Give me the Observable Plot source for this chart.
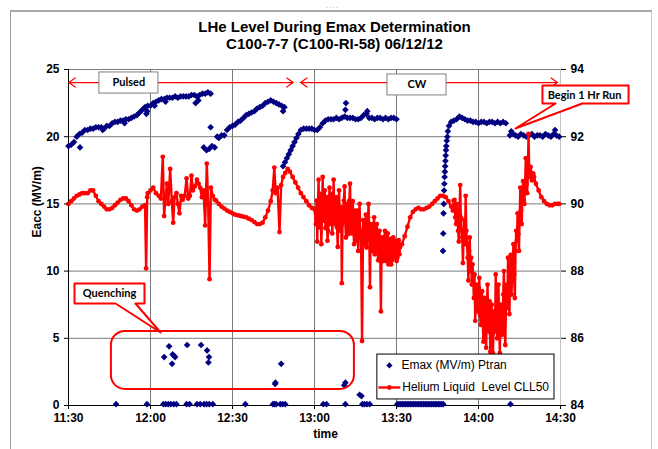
<!DOCTYPE html>
<html><head><meta charset="utf-8">
<script src="https://cdn.jsdelivr.net/npm/d3@7"></script>
<script src="https://cdn.jsdelivr.net/npm/@observablehq/plot@0.6"></script>
<style>
html,body{margin:0;padding:0;background:#fff;}
#wrap{position:relative;width:658px;height:449px;overflow:hidden;background:#fff;}
#wrap svg{display:block;position:absolute;left:0;top:0;}
.frame{position:absolute;left:10px;top:10px;width:640px;height:460px;border-left:1px solid #9a9a9a;border-top:2px solid #a8a8a8;border-right:1px solid #c8c8c8;}
.handle{position:absolute;left:326px;top:1px;font:8px 'Liberation Sans',sans-serif;color:#aaa;letter-spacing:1px;}
</style></head>
<body><div id="wrap"><div class="frame"></div><div class="handle">....</div></div>
<script>
// ---------- data ----------
const xTickLabels = ["11:30","12:00","12:30","13:00","13:30","14:00","14:30"];
const yTicks = [0,5,10,15,20,25];
const rightTicks = [84,86,88,90,92,94];

// Emax (MV/m) Ptran : [minutes after 11:30, MV/m]
const emaxPulsed1 = [[0,19.3],[1,19.4],[2,19.6],[3,20.0],[4,20.2],[4.2,19.2],[5,20.3],[6,20.5],[7,20.5],[8,20.6],[9,20.6],[10,20.7],[11,20.7],[12,20.7],[12.5,20.5],[13,20.6],[14,20.8],[15,20.8],[16,21.0],[17,21.1],[18,21.1],[19,21.2],[20,21.2],[20.5,21.0],[21,21.3],[22,21.3],[23,21.4],[24,21.5],[25,21.6],[26,21.8],[27,22.0],[28,22.2],[28.5,21.7],[28.8,21.9],[29,22.3],[30,22.3],[31,22.5],[31.5,22.3],[32,22.6],[33,22.7],[34,22.8],[35,22.8],[35.5,22.6],[36,22.9],[37,22.9],[38,22.9],[39,23.0],[40,22.9],[41,23.0],[42,23.0],[43,23.0],[44,23.0],[45,23.1],[46,23.1],[46.5,22.5],[47,23.0],[47.5,22.7],[48,23.1],[49,23.2],[50,23.2],[51,23.3],[52,23.2]];
const emaxPulsed2 = [[49.5,19.2],[50.5,19.0],[51.5,19.1],[52,20.7],[52.5,19.3],[53.5,19.2],[54.4,20.0],[55,19.9],[56,20.1],[57,20.1],[58,20.5],[59,20.7],[60,20.8],[61,20.9],[62,21.1],[63,21.2],[64,21.4],[65,21.6],[66,21.7],[67,21.8],[68,21.9],[69,22.1],[70,22.2],[71,22.3],[72,22.5],[73,22.6],[74,22.7],[75,22.6],[76,22.5],[77,22.4],[78,22.3],[78.5,21.9],[79,22.2]];
const emaxCW1 = [[78.5,17.8],[79.2,18.1],[79.9,18.4],[80.6,18.7],[81.3,19.0],[82,19.3],[82.7,19.6],[83.4,19.9],[84.1,20.2],[85,20.5],[86,20.6],[87,20.6],[88,20.6],[89,20.6],[90,20.5],[91,20.5],[92,20.7],[93,21.0],[94,21.2],[95,21.3],[96,21.3],[97,21.3],[98,21.4],[99,21.3],[100,21.4],[101,21.5],[101.3,22.0],[101.5,22.5],[102,21.4],[103,21.4],[104,21.4],[105,21.3],[106,21.3],[107,21.4],[108,21.6],[109,21.7],[109.3,21.9],[110,21.4],[111,21.4],[112,21.3],[113,21.4],[114,21.4],[115,21.3],[116,21.4],[117,21.3],[118,21.4],[119,21.4],[120,21.3]];
const emaxCW2 = [[137.0,11.5],[137.1,12.8],[137.2,14.3],[137.3,15.0],[137.4,16.0],[137.5,16.5],[137.6,17.0],[137.7,17.4],[137.8,17.8],[137.9,18.2],[138.0,18.6],[138.1,19.0],[138.2,19.3],[138.4,19.7],[138.6,20.0],[138.8,20.4],[139.2,20.8],[140,21.1],[141,21.2],[142,21.3],[143,21.5],[144,21.4],[145,21.3],[146,21.2],[147,21.2],[148,21.1],[149,21.1],[150,21.0],[151,21.1],[152,21.1],[153,21.0],[154,21.1],[155,21.1],[156,21.0],[157,21.1],[158,21.0],[159,21.1],[160,21.0]];
const emaxRun = [[161.5,20.1],[162,20.4],[162.6,20.2],[163.5,20.1],[164.5,20.0],[165.5,20.2],[166.5,20.1],[167.5,20.0],[168.5,20.1],[169.5,20.2],[170.5,20.0],[171.5,20.1],[172.5,20.1],[173.5,20.0],[174.5,20.2],[175.5,20.1],[176.5,20.0],[177.5,20.2],[178,20.5],[178.5,20.1],[179.5,20.0]];
const emaxQuench = [[35,3.6],[36.8,4.4],[37.9,3.1],[38.1,3.8],[38.6,3.7],[39,3.6],[43.4,4.5],[48.5,4.5],[50.7,4.1],[51.2,3.2],[51.4,3.6],[75.6,1.6],[75.7,1.7],[77.8,3.1],[100.9,1.5],[101.3,1.7],[106.5,0.8],[107.2,0.7]];
const emaxZero = [[17.4,0.1],[28.7,0.1],[34.7,0.1],[35.6,0.1],[36.5,0.1],[37.4,0.1],[38.5,0.1],[39.5,0.1],[43.2,0.1],[44.3,0.1],[47,0.1],[48.2,0.1],[49.6,0.1],[50.5,0.1],[51.5,0.1],[52.8,0.1],[64.7,0.1],[74.8,0.1],[75.4,0.1],[76,0.1],[77.5,0.1],[78.4,0.1],[79.3,0.1],[93.2,0.1],[94.4,0.1],[101.3,0.1],[107.5,0.1],[108.3,0.1],[109.2,0.1],[110.2,0.1],[120.3,0.1],[120.9,0.1],[121.5,0.1],[122.1,0.1],[122.7,0.1],[123.3,0.1],[123.9,0.1],[124.5,0.1],[125.1,0.1],[125.7,0.1],[126.3,0.1],[126.9,0.1],[127.5,0.1],[128.1,0.1],[128.7,0.1],[129.3,0.1],[129.9,0.1],[130.5,0.1],[131.1,0.1],[131.7,0.1],[132.3,0.1],[132.9,0.1],[133.5,0.1],[134.1,0.1],[134.7,0.1],[135.3,0.1],[135.9,0.1],[136.5,0.1],[137.1,0.1],[161.7,0.1]];

// Helium Liquid Level CLL50 : [minutes after 11:30, %]
const heliumA = [[0,90.00],[1,90.08],[2,90.16],[3,90.24],[4,90.28],[5,90.32],[6,90.32],[7,90.32],[8,90.40],[9,90.40],[10,90.24],[11,90.08],[12,90.00],[13,89.92],[14,89.84],[15,89.84],[16,89.88],[17,89.96],[18,90.04],[19,90.12],[20,90.16],[21,90.16],[22,90.08],[23,89.96],[24,89.84],[25,89.80],[26,89.84],[27,89.92],[28,89.96],[28.4,88.08],[28.8,90.20],[29,90.32],[30,90.40],[31,90.48],[32,90.32],[33,90.24]];
const heliumB = [[33.8,90.16],[34.5,91.40],[35.0,89.64],[35.5,90.16],[36.0,90.60],[36.5,90.00],[37.2,91.04],[37.8,90.08],[38.3,89.44],[38.8,90.20],[39.5,90.32],[40.0,90.00],[40.6,89.72],[41.2,90.24],[41.8,90.12],[42.5,90.24],[43.2,90.76],[43.8,90.16],[44.4,90.24],[45.0,90.84],[45.5,90.40],[46.2,90.52],[47.0,90.72],[47.6,90.60],[48.2,90.48],[48.8,90.20],[49.4,90.40],[50.0,89.36],[50.6,91.20],[51.1,90.00],[51.6,87.76],[52.1,90.48],[52.8,90.24]];
const heliumC = [[53.5,90.12],[54,90.10],[55,90.00],[56,89.92],[57,89.86],[58,89.80],[59,89.76],[60,89.72],[61,89.68],[62,89.66],[63,89.64],[64,89.62],[65,89.60],[66,89.56],[67,89.52],[68,89.46],[69,89.40],[70,89.40],[71,89.44],[72,89.60],[73,89.80],[74,90.08],[74.7,90.40],[75.3,91.08],[75.8,90.32],[76.5,90.48],[77.2,89.16],[77.8,90.56],[78.5,90.80],[79.3,90.92],[80.2,91.04],[81,90.96],[82,90.80],[83,90.64],[84,90.48],[85,90.32],[86,90.20],[87,90.08],[88,89.96],[89,89.88],[90,89.84]];
const heliumD = [[90.5,89.40],[90.75,90.10],[91,88.88],[91.25,89.90],[91.5,90.72],[91.75,89.30],[92,89.60],[92.25,90.30],[92.5,88.80],[92.75,89.70],[93,90.80],[93.25,89.50],[93.5,89.80],[93.75,90.40],[94,89.28],[94.25,89.90],[94.5,90.20],[94.75,88.90],[95,89.20],[95.25,90.00],[95.5,90.48],[95.75,89.40],[96,89.92],[96.25,90.30],[96.5,89.12],[96.75,89.80],[97,90.72],[97.25,89.60],[97.5,89.40],[97.75,90.10],[98,90.20],[98.25,89.30],[98.5,88.72],[98.75,89.70],[99,90.40],[99.25,89.50],[99.5,89.20],[99.75,89.90],[100,87.64],[100.25,89.40],[100.5,89.68],[100.75,90.10],[101,90.52],[101.25,89.50],[101.5,89.00],[101.75,89.80],[102,90.00],[102.25,89.10],[102.5,89.20],[102.75,90.10],[103,90.60],[103.25,89.60],[103.5,89.12],[103.75,89.70],[104,90.08],[104.25,89.20],[104.5,88.80],[104.75,89.50],[105,89.80],[105.25,88.90],[105.5,89.32],[105.75,89.80],[106,88.60],[106.25,89.30],[106.5,90.00],[106.75,89.00],[107,89.20],[107.4,85.92],[107.8,89.52],[108.05,88.90],[108.3,88.80],[108.55,89.40],[108.8,89.68],[109.05,88.70],[109.3,89.04],[109.55,89.60],[109.8,90.00],[110.05,89.00],[110.3,87.52],[110.55,89.10],[110.8,89.40],[111.05,88.60],[111.3,88.72],[111.55,89.30],[111.8,89.60],[112.05,88.50],[112.3,88.80],[112.55,89.20],[112.8,89.40],[113.05,88.60],[113.3,88.32],[113.55,89.00],[113.8,89.20],[114.05,88.50],[114.3,86.80],[114.55,88.70],[114.8,89.00],[115.05,88.30],[115.3,88.60],[115.55,89.00],[115.8,89.20],[116.05,88.30],[116.3,88.40],[116.55,88.90],[116.8,89.12],[117.05,88.20],[117.3,88.48],[117.55,88.80],[117.8,88.96],[118.05,88.20],[118.3,88.32],[118.55,88.70],[118.8,89.00],[119.05,88.40],[119.3,88.60],[119.55,88.90],[119.8,88.88],[120.05,88.30],[120.3,88.40],[120.55,88.80],[120.8,88.92],[121.05,88.50],[121.3,88.72]];
const heliumE = [[122,88.80],[123,89.04],[124,89.32],[125,89.60],[126,89.76],[127,89.84],[128,89.88],[129,89.84],[130,89.84],[131,89.88],[132,89.92],[133,90.00],[134,90.08],[135,90.16],[136,90.24],[137,90.24],[138,90.20],[139,90.08],[140,89.92]];
const heliumF = [[140.6,89.80],[140.9,90.10],[141.2,90.12],[141.5,89.60],[141.8,89.40],[142.05,90.00],[142.3,89.84],[142.55,89.20],[142.8,88.88],[143.05,89.60],[143.3,90.56],[143.55,89.60],[143.8,89.20],[144.05,89.00],[144.3,88.24],[144.55,89.10],[144.8,89.52],[145.05,88.80],[145.3,90.24],[145.55,89.20],[145.8,88.80],[146.05,88.40],[146.3,87.72],[146.55,88.60],[146.8,89.00],[147.05,88.00],[147.3,88.40],[147.55,87.60],[147.8,88.20],[148.05,87.80],[148.3,87.20],[148.55,87.90],[148.8,86.52],[149.05,87.40],[149.3,87.60],[149.55,86.90],[149.8,86.80],[150.05,87.50],[150.3,87.80],[150.55,86.70],[150.8,86.40],[151.05,87.20],[151.3,87.40],[151.55,86.50],[151.8,85.90],[152.05,86.90],[152.3,87.20],[152.55,86.30],[152.8,85.72],[153.05,86.80],[153.3,87.60],[153.55,86.60],[153.8,86.20],[154.05,87.10],[154.3,85.60],[154.55,86.60],[154.8,87.00],[155.05,86.10],[155.3,85.56],[155.55,86.50],[155.8,86.80],[156.05,86.20],[156.3,87.90],[156.55,86.60],[156.8,86.00],[157.05,87.00],[157.3,87.60],[157.55,86.40],[157.8,85.56],[158.05,86.70],[158.3,87.00],[158.55,86.10],[158.8,86.20],[159.05,87.30],[159.3,88.00],[159.55,86.60],[159.8,85.80],[160.05,87.00],[160.3,87.60],[160.55,86.90],[160.8,88.40],[161.05,87.40],[161.3,86.72],[161.55,87.80],[161.8,88.48],[162.05,87.30],[162.3,87.80],[162.55,88.40],[162.8,88.80],[163.05,87.90],[163.3,87.20],[163.55,88.60],[163.8,89.20],[164.05,88.90],[164.3,89.72],[164.55,89.10],[164.8,88.60],[165.05,89.60],[165.3,90.48],[165.55,89.80],[165.8,89.40],[166.05,90.20],[166.3,90.68],[166.55,90.10],[166.8,90.00],[167.05,90.60],[167.3,91.36],[167.55,90.60],[167.8,90.32],[168.05,90.90],[168.3,92.08],[168.55,91.00],[168.8,90.80],[169.05,91.10],[169.3,90.92],[169.55,90.70],[169.8,90.72],[170.05,90.90],[170.3,90.80]];
const heliumG = [[171,90.60],[172,90.40],[173,90.20],[174,90.08],[175,90.00],[176,89.96],[177,89.96],[178,90.00],[179,90.00],[179.5,90.00]];

// ---------- helpers ----------
const T0 = Date.UTC(2012,5,12,11,30);
const tm = m => new Date(T0 + m*60000);
const toLeft = h => (h - 84) * 2.5;               // secondary axis 84..94 onto 0..25
const labelMinutes = s => { const [h,m] = s.split(":").map(Number); return h*60 + m - (11*60+30); };
const xTickDates = xTickLabels.map(s => tm(labelMinutes(s)));
const xLabelOf = new Map(xTickLabels.map(s => [+tm(labelMinutes(s)), s]));
const rightLabelOf = new Map(rightTicks.map(v => [toLeft(v), String(v)]));

const emax = [emaxPulsed1, emaxPulsed2, emaxCW1, emaxCW2, emaxRun, emaxQuench, emaxZero]
  .flat().map(([m,v]) => ({time: tm(m), v}));
const helium = [heliumA, heliumB, heliumC, heliumD, heliumE, heliumF, heliumG]
  .flat().map(([m,h]) => ({time: tm(m), y: toLeft(h)}));

const ARIAL = "'Liberation Sans', Arial, sans-serif";
const CAL = "Lato, 'Open Sans', sans-serif";
const RED = "#ff0000", NAVY = "#000080";

// annotation geometry (data units)
const pulsedArrow = {mid: 41, a: 0.1, b: 82.2, y: 24.03};
const cwArrow = {mid: 131, a: 84.9, b: 178.9, y: 24.03};
const arrows = [
  {x1: tm(pulsedArrow.mid), x2: tm(pulsedArrow.a), y: pulsedArrow.y},
  {x1: tm(pulsedArrow.mid), x2: tm(pulsedArrow.b), y: pulsedArrow.y},
  {x1: tm(cwArrow.mid), x2: tm(cwArrow.a), y: cwArrow.y},
  {x1: tm(cwArrow.mid), x2: tm(cwArrow.b), y: cwArrow.y}
];
const labelBoxes = [
  {x1: tm(11.3), x2: tm(32.9), y1: 23.21, y2: 24.78, cx: tm(22.1), cy: 24.0, text: "Pulsed"},
  {x1: tm(116.7), x2: tm(138.3), y1: 23.07, y2: 24.63, cx: tm(127.5), cy: 23.85, text: "CW"}
];
const quenchCallout = [[2.2,9.08],[27.8,9.08],[27.8,7.59],[24.5,7.59],[33.7,5.43],[17.2,7.59],[2.2,7.59]]
  .map(([m,v]) => ({time: tm(m), v}));
const runCallout = [[173.4,23.81],[204.9,23.81],[204.9,22.47],[188.0,22.47],[163.5,20.61],[178.2,22.47],[173.4,22.47]]
  .map(([m,v]) => ({time: tm(m), v}));
const legendBox = {x1: tm(113.0), x2: tm(177.8), y1: 0.45, y2: 3.79};

const plot = Plot.plot({
  width: 658, height: 449,
  marginLeft: 68, marginRight: 98, marginTop: 69, marginBottom: 44,
  style: {fontFamily: ARIAL, background: "transparent", overflow: "visible", color: "#000"},
  x: {type: "utc", domain: [tm(0), tm(180)]},
  y: {domain: [0, 25]},
  marks: [
    Plot.gridX(xTickDates, {stroke: "#7a7a7a", strokeOpacity: 1}),
    Plot.gridY(yTicks, {stroke: "#7a7a7a", strokeOpacity: 1}),
    Plot.ruleX([tm(180)], {stroke: "#c4c4c4"}),
    Plot.ruleX([tm(0)], {stroke: "#000"}),
    Plot.ruleY([0], {stroke: "#000"}),
    // Emax
    Plot.dot(emax, {x: "time", y: "v", symbol: "diamond2", r: 3.0, fill: NAVY, stroke: "none"}),
    // Helium level (secondary axis)
    Plot.line(helium, {x: "time", y: "y", stroke: RED, strokeWidth: 2.4}),
    Plot.dot(helium, {x: "time", y: "y", r: 2.4, fill: RED, stroke: "none"}),
    // quench region
    Plot.rect([{}], {x1: tm(15.7), x2: tm(104.6), y1: 1.19, y2: 5.51, rx: 14, ry: 14, fill: "none", stroke: RED, strokeWidth: 2}),
    // Pulsed / CW arrows
    Plot.arrow(arrows, {x1: "x1", x2: "x2", y1: "y", y2: "y", stroke: RED, strokeWidth: 1.3, headLength: 9, headAngle: 70}),
    Plot.rect(labelBoxes, {x1: "x1", x2: "x2", y1: "y1", y2: "y2", fill: "white", stroke: "#7f7f7f", strokeWidth: 1}),
    Plot.text(labelBoxes, {x: "cx", y: "cy", text: "text", fontFamily: CAL, fontWeight: "bold", fontSize: 11, fill: "#000"}),
    // callouts
    Plot.line(quenchCallout, {x: "time", y: "v", curve: "linear-closed", fill: "white", stroke: RED, strokeWidth: 2}),
    Plot.text([{}], {x: tm(15.0), y: 8.33, text: () => "Quenching", fontFamily: CAL, fontWeight: "bold", fontSize: 11, fill: "#000"}),
    Plot.line(runCallout, {x: "time", y: "v", curve: "linear-closed", fill: "white", stroke: RED, strokeWidth: 2}),
    Plot.text([{}], {x: tm(188.8), y: 23.1, text: () => "Begin 1 Hr Run", fontFamily: CAL, fontWeight: "bold", fontSize: 11, fill: "#000"}),
    // legend
    Plot.rect([legendBox], {x1: "x1", x2: "x2", y1: "y1", y2: "y2", fill: "white", stroke: "#000", strokeWidth: 1}),
    Plot.dot([{}], {x: tm(117.4), y: 2.98, symbol: "diamond2", r: 2.8, fill: NAVY}),
    Plot.text([{}], {x: tm(121.8), y: 2.98, text: () => "Emax (MV/m) Ptran", textAnchor: "start", fontSize: 12, fill: "#000"}),
    Plot.link([{}], {x1: tm(113.4), x2: tm(121.4), y1: 1.34, y2: 1.34, stroke: RED, strokeWidth: 2.4}),
    Plot.dot([{}], {x: tm(117.4), y: 1.34, r: 2.4, fill: RED}),
    Plot.text([{}], {x: tm(122.1), y: 1.34, text: () => "Helium Liquid\u00a0 Level CLL50", textAnchor: "start", fontSize: 12, fill: "#000"}),
    // axes
    Plot.axisX(xTickDates, {tickFormat: d => xLabelOf.get(+d), tickSize: 4, tickPadding: 4, fontSize: 12, fontWeight: "bold", label: null}),
    Plot.axisY(yTicks, {anchor: "left", tickSize: 4, tickPadding: 5, fontSize: 12, fontWeight: "bold", label: null}),
    Plot.axisY(rightTicks.map(toLeft), {anchor: "right", tickFormat: d => rightLabelOf.get(d), tickSize: 5, tickPadding: 5, fontSize: 12, fontWeight: "bold", label: null}),
    // titles
    Plot.text([{}], {frameAnchor: "top", lineAnchor: "middle", dx: 20, dy: -42, text: () => "LHe Level During Emax Determination", fontSize: 15, fontWeight: "bold", fill: "#000"}),
    Plot.text([{}], {frameAnchor: "top", lineAnchor: "middle", dx: 20, dy: -25, text: () => "C100-7-7 (C100-RI-58) 06/12/12", fontSize: 15, fontWeight: "bold", fill: "#000"}),
    Plot.text([{}], {frameAnchor: "left", lineAnchor: "middle", dx: -31, rotate: -90, text: () => "Eacc (MV/m)", fontSize: 12, fontWeight: "bold", fill: "#000"}),
    Plot.text([{}], {frameAnchor: "bottom", lineAnchor: "middle", dx: 11, dy: 29, text: () => "time", fontSize: 12, fontWeight: "bold", fill: "#000"})
  ]
});
document.getElementById("wrap").appendChild(plot);
</script>
</body></html>
